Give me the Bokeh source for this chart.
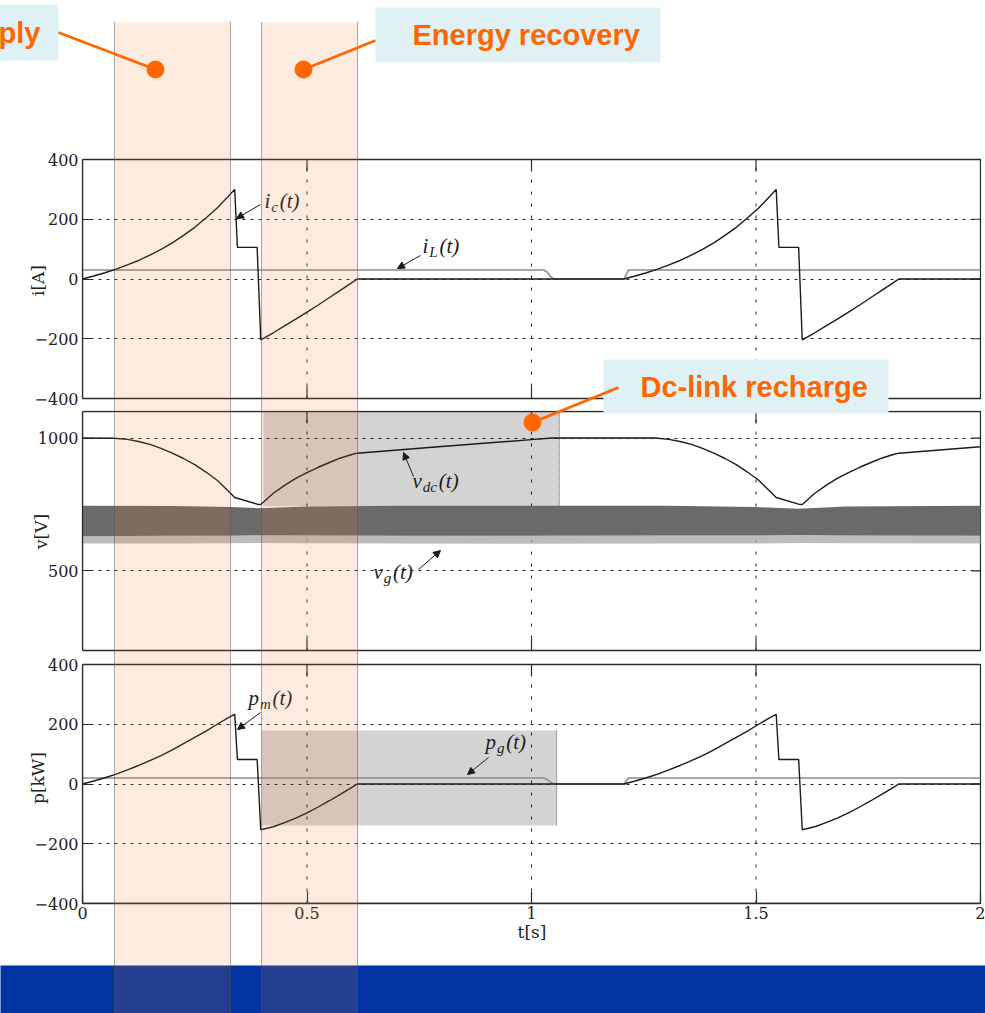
from bokeh.plotting import figure
from bokeh.models import Range1d, FixedTicker, Arrow, NormalHead, BoxAnnotation
from bokeh.layouts import column
from bokeh.core.properties import value
from bokeh.embed import file_html
from bokeh.resources import INLINE

# ================= data =================
x_ticks = [0, 0.5, 1, 1.5, 2]
x_tick_labels = ["0", "0.5", "1", "1.5", "2"]

# machine current i_c(t) [A]
t_ic = [0.000, 0.025, 0.050, 0.075, 0.100, 0.125, 0.150, 0.175, 0.200, 0.225, 0.250,
        0.275, 0.300, 0.325, 0.339, 0.345, 0.389, 0.397, 0.425, 0.450, 0.475, 0.500,
        0.525, 0.550, 0.575, 0.600, 0.612,
        1.206, 1.231, 1.256, 1.281, 1.306, 1.331, 1.356, 1.381, 1.406, 1.431, 1.456,
        1.481, 1.506, 1.531, 1.545, 1.551, 1.595, 1.603, 1.631, 1.656, 1.681, 1.706,
        1.731, 1.756, 1.781, 1.806, 1.818, 2.000]
i_c = [0, 10, 21, 33, 47, 62, 80, 99, 121, 146, 173,
       204, 238, 277, 300, 106, 106, -204, -180, -157, -134, -111,
       -87, -62, -37, -12, 0,
       0, 10, 21, 33, 47, 62, 80, 99, 121, 146, 173,
       204, 238, 277, 300, 106, 106, -204, -180, -157, -134, -111,
       -87, -62, -37, -12, 0, 0]
# line current i_L(t) [A]
t_il = [0.000, 1.027, 1.035, 1.043, 1.050, 1.206, 1.216, 2.000]
i_l = [30, 30, 23, 7, 0, 0, 30, 30]
i_ticks = [-400, -200, 0, 200, 400]
i_tick_labels = ["\u2212400", "\u2212200", "0", "200", "400"]

# dc-link voltage v_dc(t) [V]
t_vdc = [0.000, 0.070, 0.100, 0.125, 0.150, 0.175, 0.200, 0.225, 0.250, 0.275, 0.300,
         0.325, 0.339, 0.389, 0.397, 0.425, 0.450, 0.475, 0.500, 0.525, 0.550, 0.575,
         0.600, 0.612, 0.800, 1.000, 1.046,
         1.276, 1.306, 1.331, 1.356, 1.381, 1.406, 1.431, 1.456, 1.481, 1.506, 1.531,
         1.545, 1.595, 1.603, 1.631, 1.656, 1.681, 1.706, 1.731, 1.756, 1.781, 1.806,
         1.818, 2.000]
v_dc = [1000, 999, 995, 987, 976, 961, 943, 923, 900, 872, 841,
        800, 776, 751, 750, 792, 822, 848, 870, 890, 908, 925,
        938, 943, 968, 994, 1000,
        1000, 995, 987, 976, 961, 943, 923, 900, 872, 841, 800,
        776, 751, 750, 792, 822, 848, 870, 890, 908, 925, 938,
        943, 967]
# grid voltage v_g(t): envelope of the fast oscillation [V]
t_vg = [0.000, 0.200, 0.330, 0.390, 0.500, 0.700, 1.000, 1.300, 1.500, 1.595, 1.700, 2.000]
vg_top = [745, 744, 740, 736, 742, 745, 745, 745, 740, 734, 742, 745]
vg_solid = [630, 632, 632, 634, 633, 632, 632, 633, 633, 635, 633, 632]
vg_fringe = [603, 603, 604, 605, 604, 603, 602, 603, 603, 605, 604, 603]
v_ticks = [500, 1000]
v_tick_labels = ["500", "1000"]

# machine power p_m(t) [kW]
t_pm = t_ic
p_m = [0, 10, 21, 33, 47, 62, 78, 95, 114, 135, 156,
       177, 200, 222, 233, 82, 82, -153, -143, -129, -114, -97,
       -77, -56, -34, -11, 0,
       0, 10, 21, 33, 47, 62, 78, 95, 114, 135, 156,
       177, 200, 222, 233, 82, 82, -153, -143, -129, -114, -97,
       -77, -56, -34, -11, 0, 0]
# grid power p_g(t) [kW]
t_pg = [0.000, 1.027, 1.035, 1.043, 1.050, 1.206, 1.216, 2.000]
p_g = [20, 20, 15, 5, 0, 0, 20, 20]
p_ticks = [-400, -200, 0, 200, 400]
p_tick_labels = ["\u2212400", "\u2212200", "0", "200", "400"]

# highlighted time intervals [s]
bands_t = [(0.0713, 0.3296), (0.3987, 0.6125)]
recharge_v = (0.403, 1.062, 743, 1100)     # t0, t1, v0, v1
recharge_p = (0.399, 1.056, -139, 179)     # t0, t1, p0, p1

# ================= styling / layout (reference pixel coordinates) =================
SERIF = "Liberation Serif"
NUM = "DejaVu Serif"
SANS = "Liberation Sans"
INK = "#1b1b1b"
SPINE = "#2b2b2b"
GREY_LINE = "#8a8a8a"
ORANGE = "#FF6600"
CYAN = "#DFF1F5"
BAND_FILL = "#F87A2C"
BAND_ALPHA = 0.15
BAND_EDGE = "#555555"
BLUE = "#0134A0"
GREY_BOX = "#D3D3D3"
VG_DARK = "#6A6A6A"
VG_FRINGE = "#ABABAB"

PAGE_W, PAGE_H = 985, 1013
X0_PX, X2_PX = 82.0, 980.0
T_MIN, T_MAX = x_ticks[0], x_ticks[-1]
PPT = (X2_PX - X0_PX) / (T_MAX - T_MIN)
FRAME_L, FRAME_R = 82, 981

GW = {"i": 0.30, "v": 0.46, "p": 0.52, "c": 0.46, "L": 0.58, "d": 0.52, "g": 0.52, "m": 0.74}


def t_at(px):
    return T_MIN + (px - X0_PX) / PPT


def new_fig(frame_l, frame_r, frame_top, frame_bot, y0, y1, **kw):
    p = figure(frame_width=frame_r - frame_l, frame_height=frame_bot - frame_top,
               x_range=Range1d(t_at(frame_l), t_at(frame_r)), y_range=Range1d(y0, y1),
               toolbar_location=None, output_backend="svg", title=None,
               min_border=0, min_border_left=frame_l, min_border_right=PAGE_W - frame_r,
               background_fill_color="white", border_fill_color="white",
               outline_line_color=None, **kw)
    p.extra_x_ranges = {"px": Range1d(frame_l, frame_r)}
    p.extra_y_ranges = {"px": Range1d(frame_bot, frame_top)}
    p.grid.visible = False
    return p


def add_bands(p, y_from=-1.0e4, y_to=1.0e4):
    for (a, b) in bands_t:
        p.quad(left=a, right=b, top=y_from, bottom=y_to, y_range_name="px",
               fill_color=BAND_FILL, fill_alpha=BAND_ALPHA, line_color=None, level="annotation")
        p.segment(x0=[a, b], x1=[a, b], y0=y_from, y1=y_to, y_range_name="px",
                  line_color=BAND_EDGE, line_dash="1 1", line_width=1, level="annotation")


def math_label(p, x, y, base, sub, size=21, sub_size=15):
    """x: left edge, y: vertical centre of the '(t)' (reference pixels)."""
    wb = GW[base] * size
    ws = sum(GW[c] for c in sub) * sub_size
    yc = y - 1.5
    common = dict(x_range_name="px", y_range_name="px", text_font=value(SERIF),
                  text_font_style="italic", text_color=INK, text_align="left",
                  text_baseline="middle")
    p.text(x=[x], y=[yc], text=[base], text_font_size=f"{size}px", **common)
    p.text(x=[x + wb + 0.5], y=[yc + 0.30 * size], text=[sub], text_font_size=f"{sub_size}px", **common)
    p.text(x=[x + wb + ws + 2], y=[yc], text=["(t)"], text_font_size=f"{size}px", **common)


def add_arrow(p, xs, ys, xe, ye):
    p.add_layout(Arrow(end=NormalHead(size=7, fill_color=INK, line_color=INK, line_width=1),
                       x_start=xs, y_start=ys, x_end=xe, y_end=ye, line_color=INK, line_width=1,
                       x_range_name="px", y_range_name="px"))


def style_axis_labels(ax):
    ax.major_tick_out = 0
    ax.minor_tick_in = 0
    ax.minor_tick_out = 0
    ax.axis_line_color = SPINE
    ax.axis_line_width = 1.3
    ax.major_tick_line_color = SPINE
    ax.major_tick_line_width = 1.2
    ax.major_label_text_font = NUM
    ax.major_label_text_font_size = "16px"
    ax.major_label_text_color = "#222222"
    ax.axis_label_text_font = NUM
    ax.axis_label_text_font_size = "17px"
    ax.axis_label_text_font_style = "normal"
    ax.axis_label_text_color = "#222222"


def make_panel(frame_top, frame_bot, box_top, box_bot, vmin, vmax, yticks, ylabels,
               ygrid_ticks, ylabel, with_xaxis=False, bottom_border=0):
    u = (vmax - vmin) / (box_bot - box_top)
    y0 = vmin - (frame_bot - box_bot) * u
    y1 = vmax + (box_top - frame_top) * u
    p = new_fig(FRAME_L, FRAME_R, frame_top, frame_bot, y0, y1,
                x_axis_location="below" if with_xaxis else None, y_axis_location="left",
                min_border_bottom=bottom_border)
    ax = p.yaxis[0]
    ax.ticker = FixedTicker(ticks=yticks)
    ax.bounds = (vmin, vmax)
    ax.major_label_overrides = dict(zip(yticks, ylabels))
    ax.major_tick_in = 9
    style_axis_labels(ax)
    ax.major_label_standoff = 4
    ax.axis_label = ylabel
    ax.axis_label_standoff = -16

    p.ygrid.visible = True
    p.ygrid.ticker = FixedTicker(ticks=ygrid_ticks)
    p.ygrid.grid_line_color = "black"
    p.ygrid.grid_line_dash = "3 5"
    p.ygrid.grid_line_width = 1
    p.ygrid.grid_line_alpha = 0.85

    xg = x_ticks[1:-1]
    p.segment(x0=xg, x1=xg, y0=vmin, y1=vmax, line_color="black", line_dash="3 9",
              line_alpha=0.85, level="underlay")
    # panel frame and inward ticks
    p.quad(left=T_MIN, right=T_MAX, bottom=vmin, top=vmax, fill_color=None,
           line_color=SPINE, line_width=1.3)
    p.segment(x0=xg, x1=xg, y0=vmax, y1=vmax - 12 * u, line_color=SPINE, line_width=1.2)
    if not with_xaxis:
        p.segment(x0=xg, x1=xg, y0=vmin, y1=vmin + 12 * u, line_color=SPINE, line_width=1.2)
    p.segment(x0=T_MAX, x1=T_MAX - 9 / PPT, y0=yticks, y1=yticks, line_color=SPINE, line_width=1.2)

    if with_xaxis:
        xa = p.xaxis[0]
        xa.ticker = FixedTicker(ticks=x_ticks)
        xa.bounds = (T_MIN, T_MAX)
        xa.major_label_overrides = dict(zip(x_ticks, x_tick_labels))
        xa.major_tick_in = 12
        style_axis_labels(xa)
        xa.major_label_standoff = 3
        xa.axis_label = "t[s]"
        xa.axis_label_standoff = 0
    return p


def callout_box(p, left, right, top, bottom):
    p.quad(left=left, right=right, top=top, bottom=bottom, x_range_name="px", y_range_name="px",
           fill_color=CYAN, line_color=None, level="overlay")


def callout_text(p, x, y, txt, align="left"):
    p.text(x=[x], y=[y], text=[txt], x_range_name="px", y_range_name="px",
           text_font=value(SANS), text_font_style="bold", text_font_size="29px",
           text_color=ORANGE, text_align=align, text_baseline="middle", level="overlay")


def connector(p, x0, y0, x1, y1):
    p.segment(x0=[x0], y0=[y0], x1=[x1], y1=[y1], x_range_name="px", y_range_name="px",
              line_color=ORANGE, line_width=2.8, level="overlay")


def dot(p, x, y):
    p.scatter(x=[x], y=[y], x_range_name="px", y_range_name="px", marker="circle",
              size=17, fill_color=ORANGE, line_color=ORANGE, level="overlay")


# ---------------- top annotation strip (full-width frame) ----------------
top = new_fig(0, PAGE_W, 0, 150, 150, 0, x_axis_location=None, y_axis_location=None)
add_bands(top, y_from=22)
callout_box(top, -40, 58, 4, 60)
callout_text(top, 40, 32, "Energy supply", align="right")
connector(top, 58, 32, 155, 69)
dot(top, 155, 69)
callout_box(top, 375, 660, 7, 62)
callout_text(top, 412, 34, "Energy recovery")
connector(top, 375, 40, 303, 69)
dot(top, 303, 69)

# ---------------- current panel ----------------
p1 = make_panel(150, 410, 159, 398, -400, 400, i_ticks, i_tick_labels, [-200, 0, 200], "i[A]")
p1.line(t_il, i_l, line_color=GREY_LINE, line_width=1.6)
p1.line(t_ic, i_c, line_color=INK, line_width=1.4)
math_label(p1, 264, 202, "i", "c")
add_arrow(p1, 260, 204, 236, 218)
math_label(p1, 422, 247, "i", "L")
add_arrow(p1, 420, 255, 397, 268)
add_bands(p1)
callout_box(p1, 603, 888, 359, 413)
connector(p1, 618, 387, 532, 422)
callout_text(p1, 640, 386, "Dc-link recharge")

# ---------------- voltage panel ----------------
p2 = make_panel(410, 652, 411, 650, 200, 1100, v_ticks, v_tick_labels, [500, 1000], "v[V]")
t0, t1, a0, a1 = recharge_v
p2.quad(left=t0, right=t1, bottom=a0, top=a1, fill_color=GREY_BOX, line_color=None, level="image")
p2.segment(x0=[t1], x1=[t1], y0=[a0], y1=[a1], line_color=BAND_EDGE, line_dash="1 1")
p2.varea(x=t_vg, y1=vg_fringe, y2=vg_solid, fill_color=VG_FRINGE, fill_alpha=0.8)
p2.varea(x=t_vg, y1=vg_solid, y2=vg_top, fill_color=VG_DARK)
p2.line(t_vdc, v_dc, line_color=INK, line_width=1.4)
math_label(p2, 412, 482, "v", "dc")
add_arrow(p2, 413, 476, 403, 452)
math_label(p2, 373, 573, "v", "g")
add_arrow(p2, 418, 569, 440, 550)
add_bands(p2)
callout_box(p2, 603, 888, 359, 413)
connector(p2, 618, 387, 532, 422)
dot(p2, 532, 422)

# ---------------- power panel ----------------
p3 = make_panel(652, 903, 664, 903, -400, 400, p_ticks, p_tick_labels, [-200, 0, 200], "p[kW]",
                with_xaxis=True, bottom_border=48)
t0, t1, a0, a1 = recharge_p
p3.quad(left=t0, right=t1, bottom=a0, top=a1, fill_color=GREY_BOX, line_color=None, level="image")
p3.segment(x0=[t1], x1=[t1], y0=[a0], y1=[a1], line_color=BAND_EDGE, line_dash="1 1")
p3.line(t_pg, p_g, line_color=GREY_LINE, line_width=1.6)
p3.line(t_pm, p_m, line_color=INK, line_width=1.4)
math_label(p3, 248, 699, "p", "m")
add_arrow(p3, 260, 712, 237, 729)
math_label(p3, 485, 743, "p", "g")
add_arrow(p3, 488, 757, 467, 774)
add_bands(p3)
# band continuation through the x-axis area below the frame
for (a, b) in bands_t:
    p3.add_layout(BoxAnnotation(left=a, right=b, top=-400, bottom=-60, bottom_units="screen",
                                fill_color=BAND_FILL, fill_alpha=BAND_ALPHA, line_color=None))
    for e in (a, b):
        p3.add_layout(BoxAnnotation(left=e, right=e, top=-400, bottom=-60, bottom_units="screen",
                                    fill_alpha=0, line_color=BAND_EDGE, line_dash="1 1",
                                    line_width=1))

# ---------------- bottom strip with blue bar (full-width frame) ----------------
bottom = new_fig(0, PAGE_W, 951, PAGE_H, PAGE_H, 951, x_axis_location=None, y_axis_location=None)
bottom.quad(left=-50, right=PAGE_W + 50, top=965, bottom=PAGE_H + 50, x_range_name="px",
            y_range_name="px", fill_color=BLUE, line_color=None)
add_bands(bottom)

layout = column(top, column(p1, p2, p3, spacing=0), bottom, spacing=0)
open("out.html", "w").write(file_html(layout, INLINE))
